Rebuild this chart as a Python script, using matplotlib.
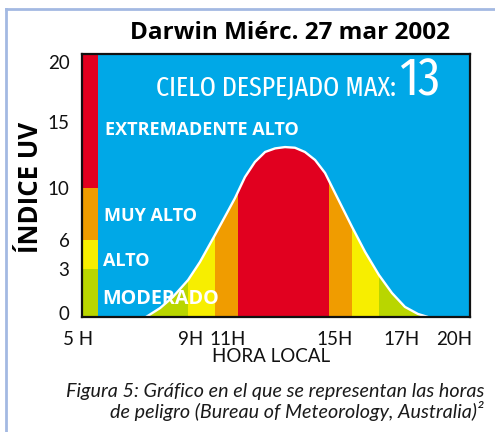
import numpy as np
import matplotlib
matplotlib.use("Agg")
import matplotlib.pyplot as plt
from matplotlib.patches import Rectangle
from matplotlib.lines import Line2D
from matplotlib.transforms import ScaledTranslation
from matplotlib import font_manager

# ---------------- data ----------------
HOURS = [7.36, 7.88, 8.35, 8.91, 9.51, 10.32, 10.97, 11.28, 11.65, 12.02, 12.40,
         12.77, 13.14, 13.51, 13.88, 14.26, 14.63, 15.00, 15.51, 15.90, 16.31,
         16.70, 17.17, 17.92, 18.50]
UV = [0.0, 0.56, 1.25, 2.31, 3.72, 6.38, 8.08, 9.23, 10.83, 11.97, 12.73,
      13.0, 13.1, 13.05, 12.73, 12.12, 11.14, 9.62, 7.0, 4.76, 2.63,
      1.5, 0.63, 0.19, 0.0]

BAND_EDGES_H = [5, 8.91, 10.32, 11.39, 14.78, 15.51, 16.31, 21]
BAND_NAMES_H = ["MODERADO", "ALTO", "MUY ALTO", "EXTREMADENTE ALTO",
                "MUY ALTO", "ALTO", "MODERADO"]

LEVEL_EDGES = [0, 3, 6, 10, 20]
LEVEL_NAMES = ["MODERADO", "ALTO", "MUY ALTO", "EXTREMADENTE ALTO"]

X_TICKS = [5, 9, 11, 15, 17, 20]
X_TICK_LABELS = ["5 H", "9H", "11H", "15H", "17H", "20H"]
Y_TICKS = [0, 3, 6, 10, 15, 20]
Y_TICK_LABELS = ["0", "3", "6", "10", "15", "20"]

TITLE = "Darwin Miérc. 27 mar 2002"
MAX_TEXT = "CIELO DESPEJADO MAX:"
MAX_VALUE = "13"
XLABEL = "HORA LOCAL"
YLABEL = "ÍNDICE UV"
CAPTION1 = "Figura 5: Gráfico en el que se representan las horas"
CAPTION2 = "de peligro (Bureau of Meteorology, Australia)²"

# ---------------- style ----------------
COLORS = {"MODERADO": "#b9d600", "ALTO": "#f7ee00", "MUY ALTO": "#f09c00",
          "EXTREMADENTE ALTO": "#e1001f"}
BLUE = "#00a8e7"
FRAME = "#a3b9e2"

# piecewise-linear axis scales (hand-drawn original)
XS_DATA = [5, 9, 11, 15, 17, 20, 21]
XS_POS = [82, 190.5, 227.5, 335, 402, 454, 470]
YS_DATA = [0, 3, 6, 10, 15, 20]
YS_POS = [0, 48, 77, 129, 195, 263]

FM = font_manager.fontManager.ttflist
names = {f.name for f in FM}

def pick(cands, default="DejaVu Sans"):
    for c in cands:
        if c in names:
            return c
    return default

SANS = pick(["Open Sans"])
ITAL = pick(["Lato"], SANS)
COND = pick(["Fira Sans Extra Condensed", "Barlow Condensed",
             "Sofia Sans Extra Condensed", "Fira Sans Condensed",
             "Roboto Condensed", "Open Sans Condensed"], SANS)

W, H = 495, 432
fig = plt.figure(figsize=(W / 100, H / 100), dpi=100)
fig.patch.set_facecolor("white")
ax = fig.add_axes([82 / W, 1 - 317 / H, 388 / W, 263 / H])

def xf(v):
    return np.interp(v, XS_DATA, XS_POS)
def xi(v):
    return np.interp(v, XS_POS, XS_DATA)
def yf(v):
    return np.interp(v, YS_DATA, YS_POS)
def yi(v):
    return np.interp(v, YS_POS, YS_DATA)

ax.set_xscale("function", functions=(xf, xi))
ax.set_yscale("function", functions=(yf, yi))
ax.set_xlim(5, 21)
ax.set_ylim(0, 20)
ax.set_facecolor(BLUE)

# area under curve, coloured by hour band
poly = ax.fill_between(HOURS, 0, UV, facecolor="none", edgecolor="none")
clip = poly.get_paths()[0]
for a, b, n in zip(BAND_EDGES_H[:-1], BAND_EDGES_H[1:], BAND_NAMES_H):
    r = ax.axvspan(a, b, color=COLORS[n], lw=0, zorder=1)
    r.set_clip_path(clip, ax.transData)
ax.plot(HOURS, UV, color="white", lw=1.7, zorder=3, solid_capstyle="round")

# left level strip
for lo, hi, n in zip(LEVEL_EDGES[:-1], LEVEL_EDGES[1:], LEVEL_NAMES):
    ax.add_patch(Rectangle((0, lo), 16 / 388, hi - lo, transform=ax.get_yaxis_transform(),
                           color=COLORS[n], lw=0, zorder=2))

for s in ax.spines.values():
    s.set_linewidth(1.6)
    s.set_color("#111111")
    s.set_zorder(5)

ax.set_xticks(X_TICKS)
ax.set_xticklabels(X_TICK_LABELS, family=ITAL, fontsize=13.5, color="#111111")
ax.set_yticks(Y_TICKS)
ax.set_yticklabels(Y_TICK_LABELS, family=ITAL, fontsize=13.5, color="#111111")
ax.tick_params(axis="both", length=0)
ax.tick_params(axis="x", pad=10)
ax.tick_params(axis="y", pad=9)
ydy = [4, 0, 0, 0, 0, -8]
for lab, dy in zip(ax.get_yticklabels(), ydy):
    lab.set_transform(lab.get_transform() + ScaledTranslation(0, dy / 100, fig.dpi_scale_trans))
xdx = [-4, 0, 0, 0, 0, 0]
for lab, dx in zip(ax.get_xticklabels(), xdx):
    lab.set_transform(lab.get_transform() + ScaledTranslation(dx / 100, 0, fig.dpi_scale_trans))

# level labels
lab_kw = dict(transform=ax.transAxes, color="white", fontweight="bold", family=SANS,
              va="baseline", ha="left", zorder=6)
ax.text(0.059, 0.692, LEVEL_NAMES[3], fontsize=13, **lab_kw)
ax.text(0.057, 0.366, LEVEL_NAMES[2], fontsize=13, **lab_kw)
ax.text(0.055, 0.194, LEVEL_NAMES[1], fontsize=13, **lab_kw)
ax.text(0.053, 0.049, LEVEL_NAMES[0], fontsize=14.2, **lab_kw)

t_max = ax.text(0.809, 0.844, MAX_TEXT, transform=ax.transAxes, color="white", family=COND,
                fontsize=21, fontweight="normal", va="baseline", ha="right", zorder=6)
t_val = ax.text(0.817, 0.844, MAX_VALUE, transform=ax.transAxes, color="white", family=COND,
                fontsize=26, fontweight="normal", va="baseline", ha="left", zorder=6)

# fit the condensed header texts to the width they take in the original
fig.canvas.draw()
rend = fig.canvas.get_renderer()
for t, target in ((t_max, 240.0), (t_val, 41.0)):
    w = t.get_window_extent(rend).width
    t.set_fontsize(t.get_fontsize() * target / w)

fig.text(290 / W, 1 - 39 / H, TITLE, ha="center", va="baseline", fontweight="bold",
         family=SANS, fontsize=17.5)
fig.text(31 / W, 1 - 187 / H, YLABEL, ha="center", va="center", rotation=90,
         fontweight="bold", family=SANS, fontsize=18.5)
fig.text(271 / W, 1 - 356 / H, XLABEL, ha="center", va="center", family=ITAL,
         fontsize=13.5, color="#111111")
fig.text(484 / W, 1 - 397 / H, CAPTION1, ha="right", va="baseline", style="italic",
         family=ITAL, fontsize=14.2, color="#1a1a1a")
fig.text(484 / W, 1 - 418 / H, CAPTION2, ha="right", va="baseline", style="italic",
         family=ITAL, fontsize=14.2, color="#1a1a1a")

# frame lines
fig.add_artist(Line2D([6 / W, 6 / W], [0, 1 - 9 / H], color=FRAME, lw=2))
fig.add_artist(Line2D([6 / W, 1], [1 - 9 / H, 1 - 9 / H], color=FRAME, lw=2))

fig.savefig("out.png", dpi=100)
